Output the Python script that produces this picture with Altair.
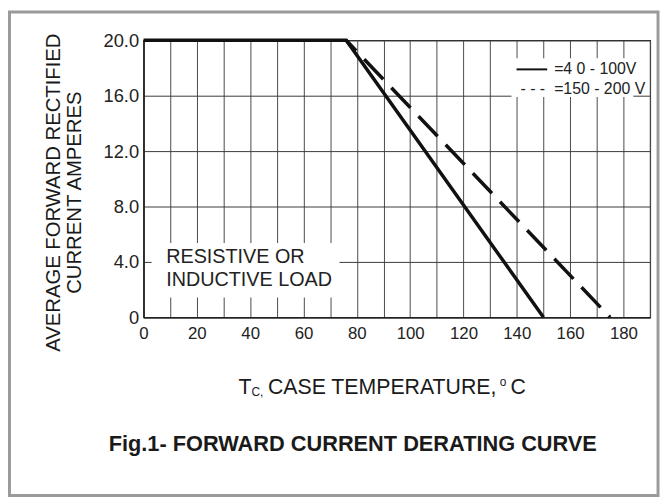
import altair as alt
import pandas as pd

# ---------------- data ----------------
solid_temp = [0, 76, 150]           # 40 - 100V curve (deg C)
solid_current = [20.0, 20.0, 0.0]   # amperes
dashed_temp = [76, 175]             # 150 - 200V curve (deg C)
dashed_current = [20.0, 0.0]

x_grid = list(range(0, 191, 10))
y_ticks = [0, 4, 8, 12, 16, 20]

legend_labels = ["=4 0 - 100V", "=150 - 200 V"]
legend_y = [17.9, 16.5]
note_lines = ["RESISTIVE OR", "INDUCTIVE LOAD"]
note_y = [4.35, 2.72]

# white boxes that hide the grid behind the notes (data units)
mask_x0 = [3.0, 138.0]
mask_x1 = [73.5, 183.7]
mask_y0 = [1.43, 15.9]
mask_y1 = [5.36, 18.7]

y_title_lines = ["AVERAGE FORWARD RECTIFIED", "CURRENT AMPERES"]
x_title_main = "CASE TEMPERATURE,"
fig_title = "Fig.1- FORWARD CURRENT DERATING CURVE"

FONT = "Liberation Sans"
W, H = 512, 280

xs = alt.Scale(domain=[0, 190], nice=False, zero=False)
ys = alt.Scale(domain=[0, 20], nice=False)

ax_x = alt.Axis(values=x_grid, labelExpr="datum.value % 20 == 0 ? datum.label : ''",
                grid=True, ticks=False, domain=True, domainColor="#222", domainWidth=1.5,
                labelFontSize=17, labelFont=FONT, labelColor="#222", labelPadding=8,
                gridColor="#4a4a4a", gridWidth=1, title=None, labelFlush=False, format="d")
ax_y = alt.Axis(values=y_ticks, labelExpr="datum.value == 0 ? '0' : format(datum.value, '.1f')",
                grid=True, ticks=False, domain=True, domainColor="#222", domainWidth=1.5,
                labelFontSize=18.5, labelFont=FONT, labelColor="#222", labelPadding=5,
                gridColor="#3a3a3a", gridWidth=1, title=None)

def X(f):
    return alt.X(f, scale=xs, axis=ax_x)

def Y(f):
    return alt.Y(f, scale=ys, axis=ax_y)

# frame around the figure
frame = alt.Chart(pd.DataFrame({"k": [0]})).mark_rect(
    fill="white", fillOpacity=0, stroke="#9a9a9a", strokeWidth=3
).encode(x=alt.value(-135.5), x2=alt.value(520), y=alt.value(-28.5), y2=alt.value(460))

masks = alt.Chart(pd.DataFrame({"x0": mask_x0, "x1": mask_x1, "y0": mask_y0, "y1": mask_y1})).mark_rect(
    fill="white"
).encode(x=X("x0:Q"), x2="x1:Q", y=Y("y0:Q"), y2="y1:Q")

solid = alt.Chart(pd.DataFrame({"T": solid_temp, "I": solid_current})).mark_line(
    color="#111", strokeWidth=3.5
).encode(x=X("T:Q"), y=Y("I:Q"))

dashed = alt.Chart(pd.DataFrame({"T": dashed_temp, "I": dashed_current})).mark_line(
    color="#111", strokeWidth=3.5, strokeDash=[28, 11.8], strokeDashOffset=13.4
).encode(x=X("T:Q"), y=Y("I:Q"))

leg_line = alt.Chart(pd.DataFrame({"a": [139.9], "b": [151.4], "y": [legend_y[0]]})).mark_rule(
    color="#111", strokeWidth=2
).encode(x=X("a:Q"), x2="b:Q", y=Y("y:Q"))

leg_dash = alt.Chart(pd.DataFrame({"a": [141.4], "y": [legend_y[1]], "t": ["- - -"]})).mark_text(
    font=FONT, fontSize=16, align="left", baseline="middle", color="#222"
).encode(x=X("a:Q"), y=Y("y:Q"), text="t:N")

leg_text = alt.Chart(pd.DataFrame({"a": [154.0, 154.0], "y": legend_y, "t": legend_labels})).mark_text(
    font=FONT, fontSize=16, align="left", baseline="middle", color="#222"
).encode(x=X("a:Q"), y=Y("y:Q"), text="t:N")

note = alt.Chart(pd.DataFrame({"a": [8.5, 8.5], "y": note_y, "t": note_lines})).mark_text(
    font=FONT, fontSize=20, align="left", baseline="middle", color="#222"
).encode(x=X("a:Q"), y=Y("y:Q"), text="t:N")

def label(txt, x, y, size, **kw):
    return alt.Chart(pd.DataFrame({"t": [txt]})).mark_text(
        font=FONT, fontSize=size, color="#1a1a1a", baseline="alphabetic", **kw
    ).encode(x=alt.value(x), y=alt.value(y), text="t:N")

ytitle1 = label(y_title_lines[0], -84, 154, 20.5, angle=270, align="center")
ytitle2 = label(y_title_lines[1], -63, 154, 20.5, angle=270, align="center")

xt_T = label("T", 96, 357.6, 21.5, align="left")
xt_sub = label("C,", 109, 360, 12, align="left")
xt_main = label(x_title_main, 125.7, 357.6, 21.5, align="left")
xt_o = label("o", 360, 349, 12, align="left")
xt_C = label("C", 371, 357.6, 21.5, align="left")

ftitle = label(fig_title, 211.5, 415.3, 22, align="center", fontWeight="bold")

chart = alt.layer(
    frame, masks, solid, dashed, leg_line, leg_dash, leg_text, note,
    ytitle1, ytitle2, xt_T, xt_sub, xt_main, xt_o, xt_C, ftitle
).properties(
    width=W, height=H,
    autosize=alt.AutoSizeParams(type="none"),
    padding={"left": 137, "top": 30, "right": 10, "bottom": 182},
    background="white",
).configure_view(stroke="#222", strokeWidth=1.2)

chart.save("out.html", embed_options={"renderer": "svg", "actions": False})
